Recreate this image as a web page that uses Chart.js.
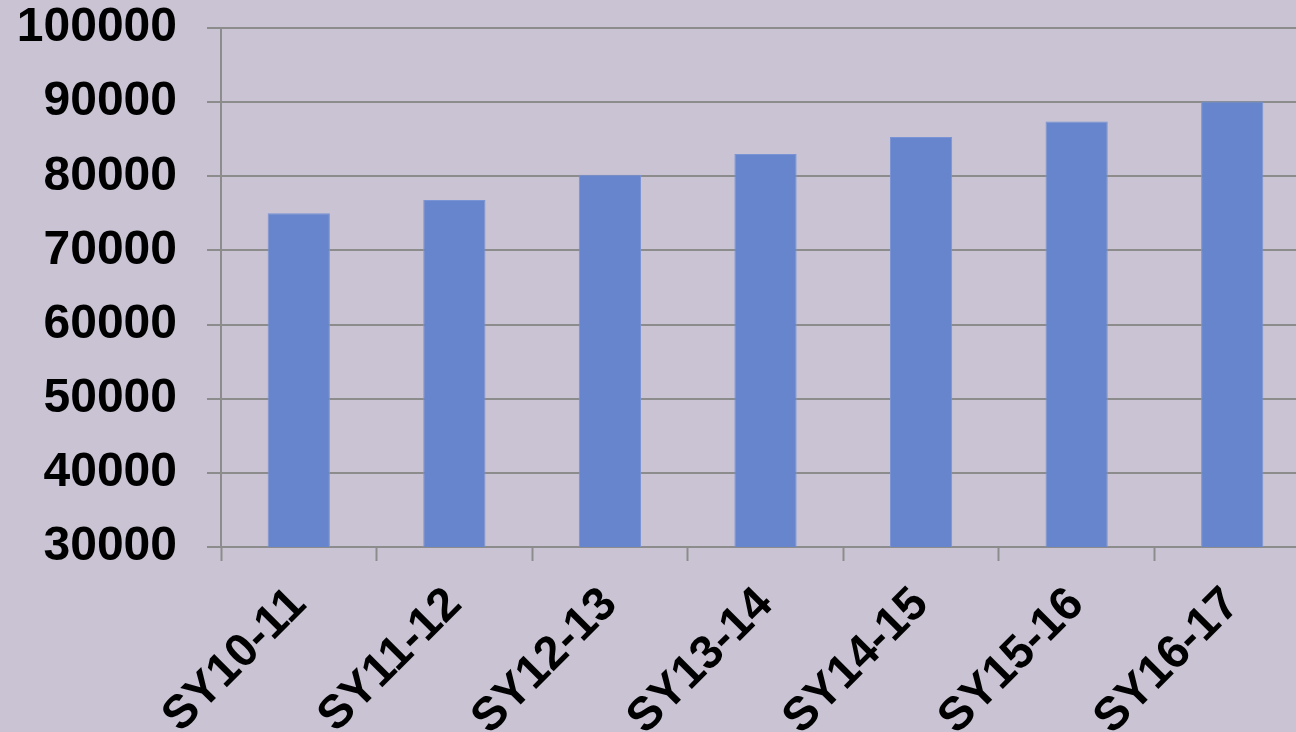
<!DOCTYPE html>
<html>
<head>
<meta charset="utf-8">
<script src="https://cdn.jsdelivr.net/npm/chart.js@4"></script>
<style>
  html, body { margin: 0; padding: 0; overflow: hidden; background: #c9c3d3; }
  #wrap { width: 1310px; height: 732px; }
</style>
</head>
<body>
<div id="wrap"><canvas id="enrollChart" width="1310" height="732"></canvas></div>
<script>
// school years and values
const categories = ["SY10-11", "SY11-12", "SY12-13", "SY13-14", "SY14-15", "SY15-16", "SY16-17"];
const values = [75000, 76800, 80200, 83000, 85300, 87400, 90100];
const yTicks = [30000, 40000, 50000, 60000, 70000, 80000, 90000, 100000];

const gridColor = "#8c8c8c";
const labelFont = { family: "'Liberation Sans', Arial, sans-serif", size: 48, weight: "bold" };

let ctx = document.getElementById("enrollChart").getContext("2d");
let chart = new Chart(ctx, {
  type: "bar",
  data: {
    labels: categories,
    datasets: [
      {
        data: values,
        backgroundColor: "#6685cc",
        borderColor: "#7a93d4",
        borderWidth: 1,
        barPercentage: 0.4,
        categoryPercentage: 1,
      },
    ],
  },
  options: {
    responsive: false,
    animation: false,
    layout: { padding: { top: 28, left: 0, right: 0, bottom: 0 } },
    plugins: {
      legend: { display: false },
      tooltip: { enabled: false },
    },
    scales: {
      x: {
        offset: true,
        grid: {
          offset: true,
          drawOnChartArea: false,
          drawTicks: true,
          tickLength: 14,
          tickWidth: 2,
          tickColor: gridColor,
        },
        border: { color: gridColor, width: 2 },
        ticks: {
          color: "#000",
          font: { ...labelFont, size: 47 },
          minRotation: 45,
          maxRotation: 45,
          padding: 16,
        },
        afterFit: (scale) => {
          scale.height = 732 - 547;
          scale.paddingLeft = 0;
          scale.paddingRight = 0;
        },
      },
      y: {
        min: 30000,
        max: 100000,
        afterBuildTicks: (scale) => { scale.ticks = yTicks.map((v) => ({ value: v })); },
        grid: {
          color: gridColor,
          lineWidth: 2,
          tickLength: 14,
        },
        border: { color: gridColor, width: 2 },
        ticks: {
          color: "#000",
          font: labelFont,
          padding: 30,
          callback: (v) => String(v),
        },
        afterFit: (scale) => {
          scale.width = 221;
          scale.paddingTop = 0;
          scale.paddingBottom = 0;
        },
      },
    },
  },
});
</script>
</body>
</html>
